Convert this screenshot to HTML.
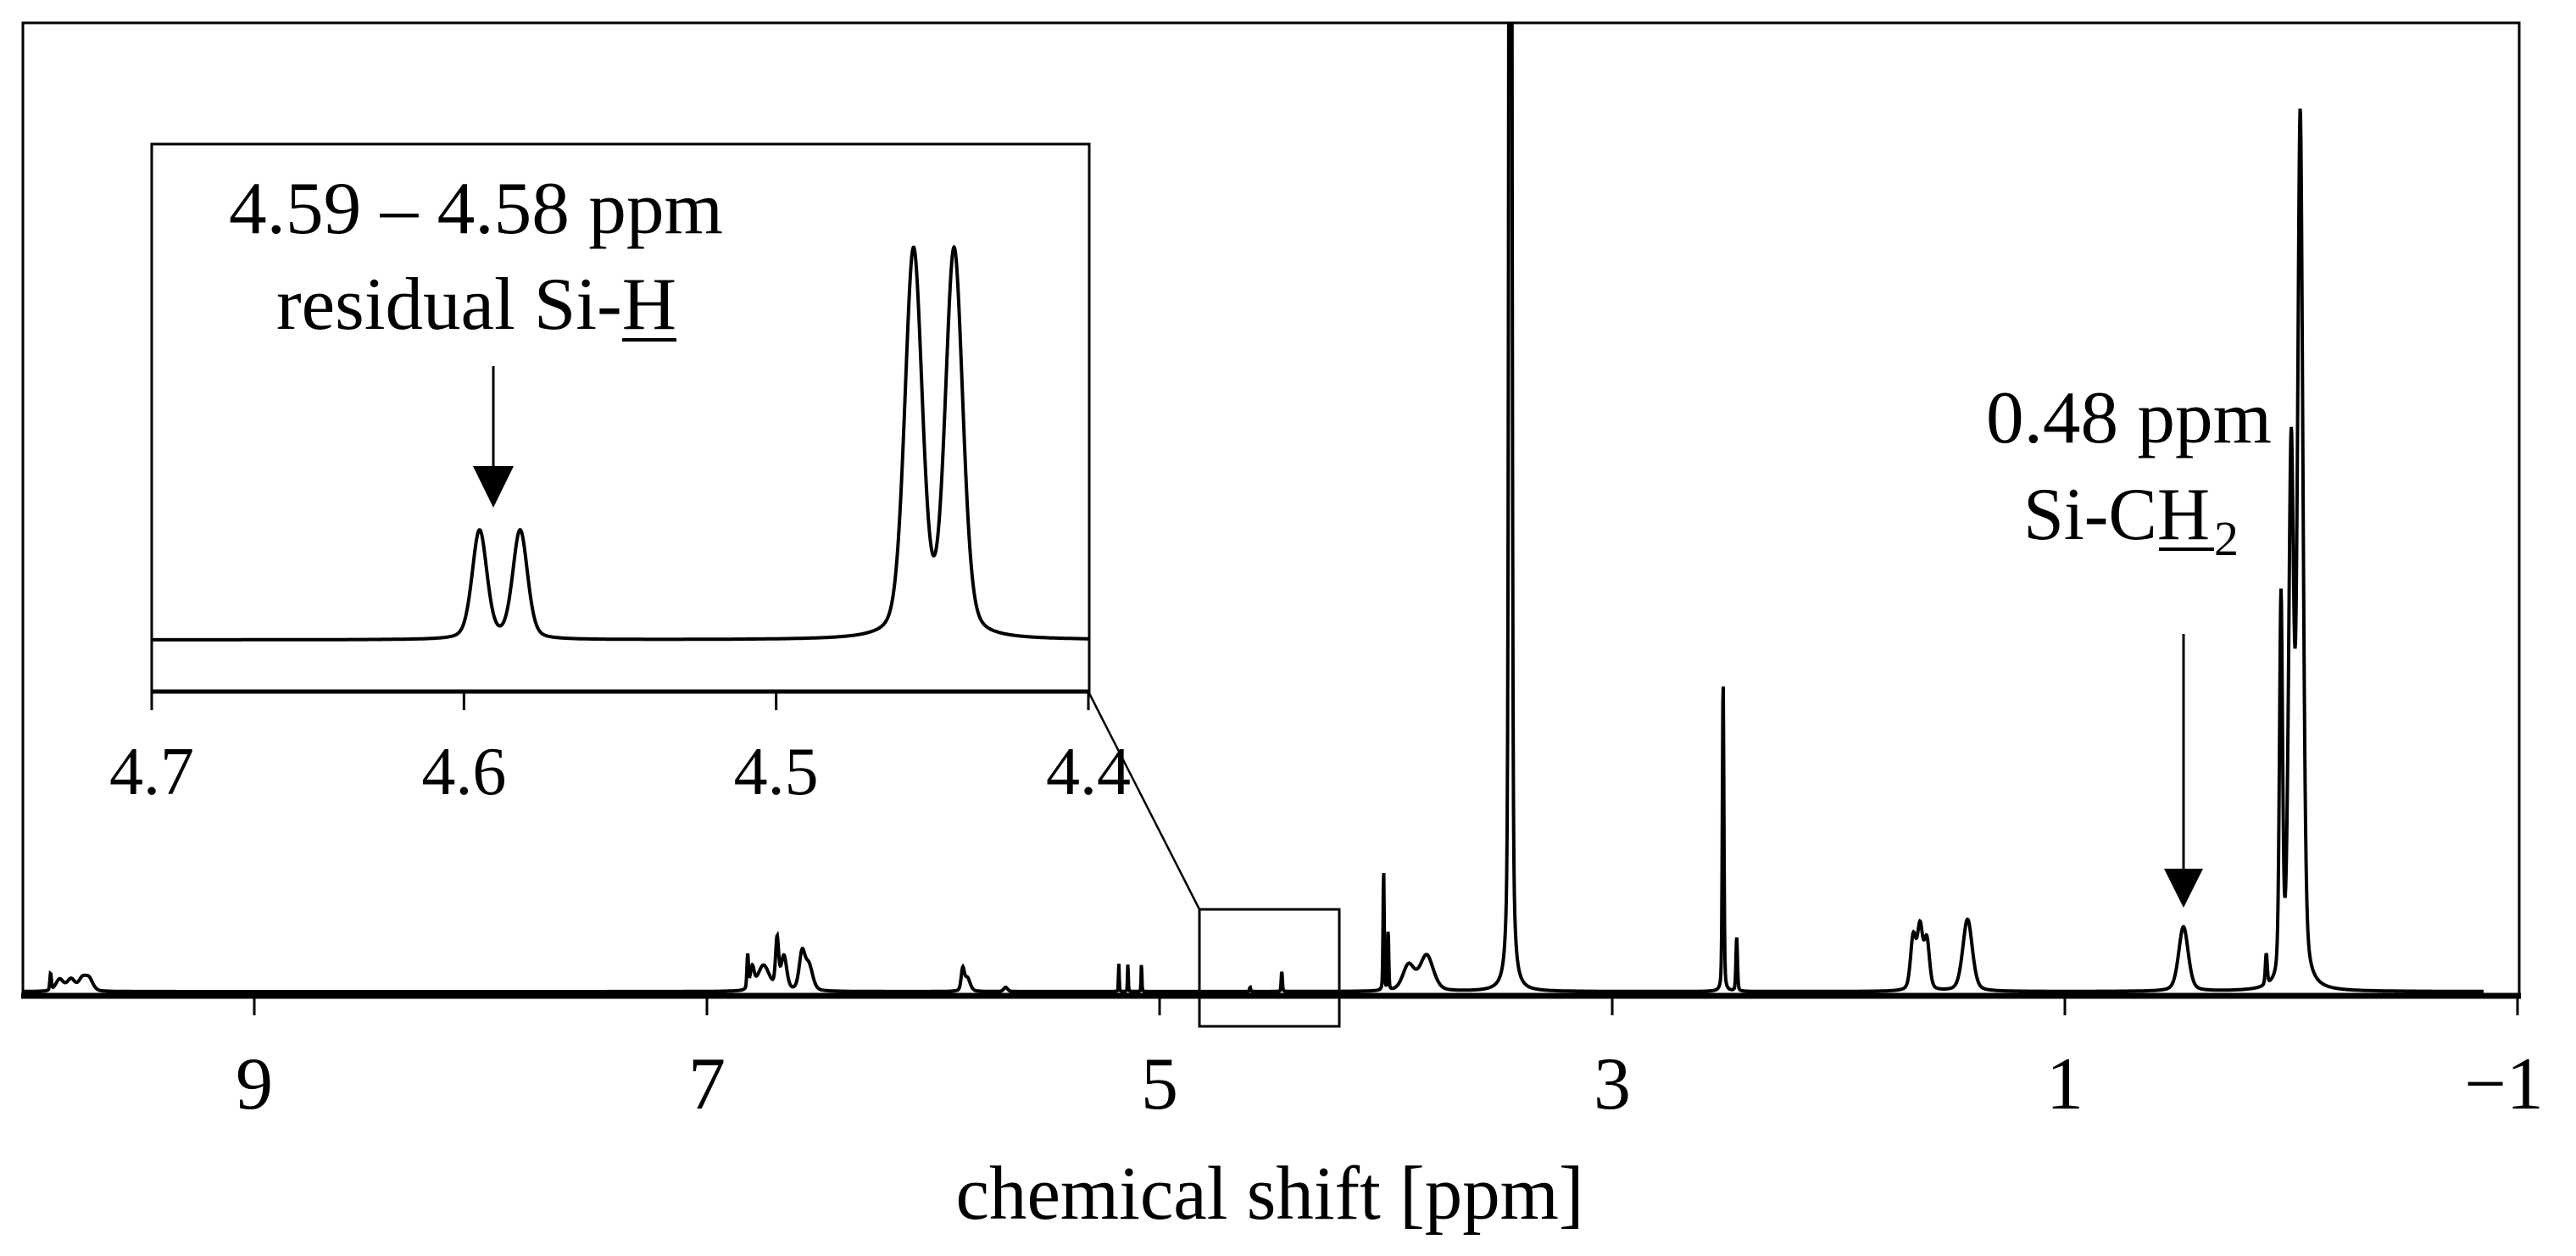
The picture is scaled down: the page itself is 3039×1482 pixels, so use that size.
<!DOCTYPE html>
<html><head><meta charset="utf-8"><style>
html,body{margin:0;padding:0;background:#fff;}
svg{display:block;}
text{font-family:"Liberation Serif",serif;fill:#000;}
</style></head><body>
<svg id="chart" width="3039" height="1482" viewBox="0 0 3039 1482" xmlns="http://www.w3.org/2000/svg">
<defs><clipPath id="mainClip"><rect x="27" y="27" width="2945" height="1148"/></clipPath>
<clipPath id="insetClip"><rect x="179" y="170" width="1106" height="646"/></clipPath></defs>
<g id="main"></g>
<g id="inset"></g>
</svg>
<script>
// main spectrum peaks: ppm, intensity, half-width (ppm)
const mainPeakPpm = [9.90,9.86,9.81,9.76,9.73, 6.82,6.80,6.75,6.69,6.66,6.58,6.55, 5.87,5.85,5.68, 5.18,5.14,5.08, 4.60,4.46, 4.01,3.99,3.90,3.82, 3.45, 2.51,2.45, 1.67,1.64,1.61, 1.43, 0.476, 0.11,0.045,0.0,-0.04];
const mainPeakInt = [20,14,14,14,14, 40,25,30,58,40,42,30, 24,16,5, 33,33,33, 5,24, 143,70,30,42, 3000, 367,64, 62,72,58, 85, 76, 37,449,620,1020];
const mainPeakWid = [0.004,0.02,0.02,0.02,0.02, 0.004,0.01,0.03,0.008,0.015,0.015,0.02, 0.008,0.015,0.01, 0.002,0.002,0.002, 0.003,0.003, 0.003,0.003,0.03,0.035, 0.006, 0.004,0.004, 0.014,0.014,0.014, 0.025, 0.025, 0.005,0.008,0.013,0.014];
const mainTicks = [9,7,5,3,1,-1];
const mainTickLabels = ["9","7","5","3","1","\u22121"];
// inset spectrum peaks
const insetPeakPpm = [4.595,4.582,4.456,4.443];
const insetPeakInt = [128,128,455,455];
const insetPeakWid = [0.0028,0.0028,0.0033,0.0033];
const insetTicks = [4.7,4.6,4.5,4.4];
const insetTickLabels = ["4.7","4.6","4.5","4.4"];

const NS="http://www.w3.org/2000/svg";
function mk(tag,attrs,parent){const e=document.createElementNS(NS,tag);for(const k in attrs)e.setAttribute(k,attrs[k]);parent.appendChild(e);return e;}
const xMain=p=>2436+(1-p)*267;
const yMain=v=>1170-v;
const xIn=p=>179+(4.7-p)*3683.3;
const yIn=v=>755-v;
function spec(p,P,I,W,eta){let s=0;for(let i=0;i<P.length;i++){const d=(p-P[i])/W[i];s+=I[i]*(eta/(1+d*d)+(1-eta)*Math.exp(-0.6931*d*d));}return s;}

const gm=document.getElementById('main');
let d="";
for(let x=27;x<=2930;x+=0.5){const p=1-(x-2436)/267;const v=spec(p,mainPeakPpm,mainPeakInt,mainPeakWid,0.35);d+=(d?"L":"M")+x.toFixed(1)+","+yMain(v).toFixed(1);}
const sp=mk('path',{d:d,fill:"none",stroke:"#000","stroke-width":"4","clip-path":"url(#mainClip)"},gm);


const fr=mk('path',{d:"M27,1175 L27,27 L2972,27 L2972,1175",fill:"none",stroke:"#000","stroke-width":"3"},gm);


const ax=mk('line',{x1:25,y1:1175,x2:2974,y2:1175,stroke:"#000","stroke-width":"7"},gm);


mainTicks.forEach((t,i)=>{
  const tk=mk('line',{x1:xMain(t),y1:1175,x2:xMain(t),y2:1198,stroke:"#000","stroke-width":"3"},gm);
  
  
  const tl=mk('text',{x:xMain(t)-(t<0?16:0),y:1308,"font-size":"88","text-anchor":"middle"},gm);
  tl.textContent=mainTickLabels[i];
  
  
});
const at=mk('text',{x:1498,y:1438,"font-size":"90","text-anchor":"middle",textLength:"741",lengthAdjust:"spacingAndGlyphs"},gm);
at.textContent="chemical shift [ppm]";


const zb=mk('rect',{x:1415,y:1073,width:165,height:138,fill:"none",stroke:"#000","stroke-width":"3"},gm);


const cl=mk('line',{x1:1284,y1:816,x2:1415,y2:1073,stroke:"#000","stroke-width":"2.5"},gm);



const gi=document.getElementById('inset');
const ib=mk('rect',{x:179,y:170,width:1106,height:646,fill:"#fff",stroke:"#000","stroke-width":"3"},gi);


let di="";
for(let x=179;x<=1285;x+=0.5){const p=4.7-(x-179)/3683.3;const v=spec(p,insetPeakPpm,insetPeakInt,insetPeakWid,0.3);di+=(di?"L":"M")+x.toFixed(1)+","+yIn(v).toFixed(1);}
const isp=mk('path',{d:di,fill:"none",stroke:"#000","stroke-width":"4","clip-path":"url(#insetClip)"},gi);


const iax=mk('line',{x1:179,y1:816,x2:1285,y2:816,stroke:"#000","stroke-width":"5"},gi);


insetTicks.forEach((t,i)=>{
  const tk=mk('line',{x1:xIn(t),y1:816,x2:xIn(t),y2:838,stroke:"#000","stroke-width":"3"},gi);
  
  
  const tl=mk('text',{x:xIn(t),y:937,"font-size":"80","text-anchor":"middle"},gi);
  tl.textContent=insetTickLabels[i];
  
  
});
</script>
<svg style="position:absolute;left:0;top:0" width="3039" height="1482" viewBox="0 0 3039 1482" xmlns="http://www.w3.org/2000/svg">
<text x="270" y="275" font-size="88" textLength="583" lengthAdjust="spacingAndGlyphs">4.59 – 4.58 ppm</text>
<text x="326" y="388" font-size="88" textLength="472" lengthAdjust="spacingAndGlyphs">residual Si-H</text>
<line x1="734" y1="401" x2="798" y2="401" stroke="#000" stroke-width="4"/>
<line x1="582" y1="432" x2="582" y2="555" stroke="#000" stroke-width="3"/>
<polygon points="558,550 606,550 582,599" fill="#000"/>
<text x="2343" y="522" font-size="88" textLength="337" lengthAdjust="spacingAndGlyphs">0.48 ppm</text>
<text x="2387" y="636" font-size="88" textLength="220" lengthAdjust="spacingAndGlyphs">Si-CH</text>
<text x="2612" y="655" font-size="58">2</text>
<line x1="2547" y1="648" x2="2612" y2="648" stroke="#000" stroke-width="4"/>
<line x1="2576" y1="748" x2="2576" y2="1030" stroke="#000" stroke-width="3"/>
<polygon points="2553,1025 2599,1025 2576,1071" fill="#000"/>
</svg>
</body></html>
